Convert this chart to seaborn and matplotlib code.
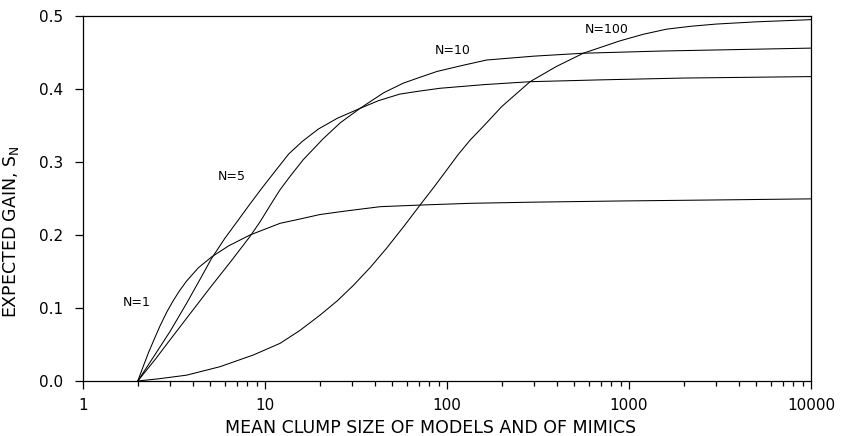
import numpy as np
import pandas as pd
import matplotlib
matplotlib.use('Agg')
import matplotlib.pyplot as plt
import matplotlib.ticker as mticker
import seaborn as sns

# values: mean clump size -> expected gain S_N
clump_n1 = [2, 2.15, 2.3, 2.47, 2.65, 2.88, 3.13, 3.4, 3.71, 4.3, 5.09, 6.3, 8.27, 10, 12.1, 15, 20, 28, 43,
            71, 134, 300, 893, 3000, 10000]
gain_n1 = [0, 0.021, 0.04, 0.058, 0.0755, 0.094, 0.110, 0.124, 0.137, 0.155, 0.170, 0.185, 0.200, 0.208,
           0.216, 0.221, 0.228, 0.233, 0.2388, 0.241, 0.2434, 0.245, 0.2466, 0.248, 0.2495]

clump_n5 = [2, 2.5, 3.01, 3.7, 4.3, 5.09, 6, 7.13, 8.3, 9.6, 11.5, 13.5, 16, 19.6, 25, 33.3, 42, 55, 70,
            91.5, 160, 286, 693, 2000, 10000]
gain_n5 = [0, 0.037, 0.068, 0.106, 0.135, 0.168, 0.195, 0.2205, 0.243, 0.264, 0.289, 0.311, 0.328, 0.345,
           0.360, 0.3735, 0.384, 0.393, 0.397, 0.401, 0.406, 0.410, 0.4125, 0.415, 0.417]

clump_n10 = [2, 2.5, 3, 3.71, 5, 6.5, 8.27, 9.39, 10.7, 12.1, 13.7, 16.2, 20.9, 26, 33.3, 37.8, 45, 57.5,
             70, 88, 120, 165, 300, 561, 1500, 10000]
gain_n10 = [0, 0.03, 0.056, 0.086, 0.128, 0.164, 0.198, 0.218, 0.241, 0.262, 0.28, 0.303, 0.332, 0.354,
            0.3735, 0.3826, 0.395, 0.408, 0.4155, 0.424, 0.432, 0.4397, 0.445, 0.449, 0.452, 0.456]

clump_n100 = [2, 2.6, 3.71, 5.66, 8.62, 12.1, 15.5, 20.1, 25, 30.6, 38, 46.6, 58, 71.1, 85, 99.6, 115, 134,
              160, 200, 286, 400, 561, 893, 1200, 1611, 2200, 3033, 5000, 10000]
gain_n100 = [0, 0.003, 0.008, 0.0196, 0.0356, 0.0516, 0.069, 0.0904, 0.110, 0.131, 0.156, 0.182, 0.212,
             0.241, 0.266, 0.289, 0.310, 0.330, 0.350, 0.376, 0.410, 0.431, 0.449, 0.466, 0.475, 0.482,
             0.486, 0.489, 0.492, 0.495]

curve_names = ['N=1', 'N=5', 'N=10', 'N=100']
label_x = [1.98, 6.56, 107, 757]
label_y = [0.107, 0.280, 0.4534, 0.481]

x_ticks = [1, 10, 100, 1000, 10000]
x_ticklabels = ['1', '10', '100', '1000', '10000']
y_ticks = [0.0, 0.1, 0.2, 0.3, 0.4, 0.5]
y_ticklabels = ['0.0', '0.1', '0.2', '0.3', '0.4', '0.5']

frames = []
for name, xs, ys in zip(curve_names,
                        [clump_n1, clump_n5, clump_n10, clump_n100],
                        [gain_n1, gain_n5, gain_n10, gain_n100]):
    frames.append(pd.DataFrame({'clump': xs, 'gain': ys, 'curve': name}))
df = pd.concat(frames, ignore_index=True)

sns.set_style('ticks')
plt.rcParams['font.family'] = ['DejaVu Sans']
plt.rcParams['text.color'] = 'black'
plt.rcParams['axes.labelcolor'] = 'black'
plt.rcParams['xtick.color'] = 'black'
plt.rcParams['ytick.color'] = 'black'

fig = plt.figure(figsize=(8.41, 4.36), dpi=100)
ax = fig.add_axes([83 / 841, 55 / 436, 728 / 841, 365 / 436])
ax.set_xscale('log')

sns.lineplot(data=df, x='clump', y='gain', units='curve', estimator=None,
             color='black', lw=0.75, ax=ax)

ax.set_xlim(1, 10000)
ax.set_ylim(0, 0.5)

ax.set_xticks(x_ticks)
ax.set_xticklabels(x_ticklabels)
ax.xaxis.set_minor_locator(mticker.LogLocator(base=10, subs=range(2, 10)))
ax.xaxis.set_minor_formatter(mticker.NullFormatter())
ax.set_yticks(y_ticks)
ax.set_yticklabels(y_ticklabels)

ax.tick_params(axis='x', which='major', direction='out', length=5.5, width=0.9, pad=6.5,
               labelsize=11, color='black', labelcolor='black')
ax.tick_params(axis='x', which='minor', direction='out', length=3.5, width=0.9, color='black')
ax.tick_params(axis='y', which='major', direction='out', length=6, width=0.9, pad=8,
               labelsize=11, color='black', labelcolor='black')
for sp in ax.spines.values():
    sp.set_linewidth(0.9)
    sp.set_color('black')

for name, lx, ly in zip(curve_names, label_x, label_y):
    ax.text(lx, ly, name, ha='center', va='center', fontsize=9, color='black')

ax.set_xlabel('MEAN CLUMP SIZE OF MODELS AND OF MIMICS', fontsize=12.5, color='black')
ax.set_ylabel('EXPECTED GAIN, S$_\\mathregular{N}$', fontsize=12.5, color='black')
ax.xaxis.set_label_coords(0.477, -0.104)
ax.yaxis.set_label_coords(-0.085, 0.41)

fig.savefig('out.png', dpi=100)
